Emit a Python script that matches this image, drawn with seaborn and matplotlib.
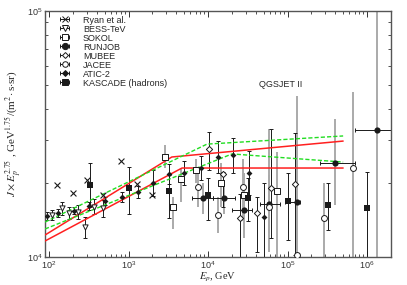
import numpy as np
import pandas as pd
import seaborn as sns
import matplotlib.pyplot as plt
from matplotlib.ticker import LogLocator, NullFormatter

# ---- model curves (QGSJET II) ----
red1_E = [89, 3500, 5e5]
red1_J = [12285, 25500, 29600]
red2_E = [89, 4700, 5e5]
red2_J = [11617, 23000, 23000]
green1_E = [89, 9700, 5e5]
green1_J = [13870, 28770, 31050]
green2_E = [89, 20000, 5e5]
green2_J = [13000, 26240, 24320]

# ---- data ----
ryan_E = [126, 198, 296, 480, 805, 1280, 2000]
ryan_J = [19620, 18240, 20560, 17870, 24600, 19750, 17900]

bess_E = [110, 145, 178, 233, 284, 371, 482]
bess_J = [14820, 15790, 15100, 15260, 13240, 16000, 15790]
bess_lo = [14100, 14800, 14300, 14300, 11970, 14900, 14500]
bess_hi = [15600, 16800, 16000, 16300, 14600, 17200, 17100]

atic_E = [94, 131, 208, 318, 506, 820, 1318, 2033, 3228, 5036, 8165, 13170, 20460, 32830, 50600]
atic_J = [14680, 15140, 15420, 16120, 16890, 17490, 18370, 20050, 21750, 22010, 23000, 25500, 25980, 22010, 14580]
atic_lo = [14200, 14600, 14900, 15500, 16200, 16700, 17400, 17700, 19800, 19600, 20500, 22000, 22000, 17800, 10000]
atic_hi = [15200, 15700, 16000, 16800, 17600, 18300, 19400, 22600, 23800, 24600, 25800, 29500, 30500, 27000, 20000]

sokol_E = [2900, 3600, 4540, 7060, 14450, 28000, 73800]
sokol_J = [25400, 15910, 20750, 22590, 19990, 17870, 18530]
sokol_lo = [22900, 13000, 16800, 20000, 16000, 14000, 10000]
sokol_hi = [28500, 17600, 22900, 25000, 24000, 22000, 26800]

runjob_E = [8570, 15900, 28600, 59000, 131000, 395000, 1320000]
runjob_J = [17420, 17420, 15460, 16500, 16740, 24160, 32800]
runjob_lo = [15000, 15000, 12000, 12500, 10200, 16300, 10000]
runjob_hi = [20000, 20500, 19500, 21500, 24500, 36500, 100000]
runjob_Elo = [6350, 11600, 20000, 45000, 92700, 256500, 706000]
runjob_Ehi = [11600, 21800, 36000, 80000, 143000, 706000, 2000000]

mubee_E = [10400, 15300, 24900, 41300, 62000, 124000]
mubee_J = [27400, 21800, 14360, 15050, 19010, 19750]
mubee_lo = [22580, 16000, 10000, 10500, 12000, 10200]
mubee_hi = [32300, 22200, 18000, 17500, 33000, 31900]

jacee_E = [7550, 13200, 27300, 58500, 131000, 284000, 660000]
jacee_J = [19320, 14810, 19320, 15960, 10190, 14450, 23110]
jacee_lo = [16000, 12500, 14000, 10500, 10000, 10000, 10000]
jacee_hi = [23000, 17500, 25000, 33000, 45000, 19960, 46800]

kascade_E = [328, 1024, 3260, 10100, 32100, 100000, 318000, 1000000]
kascade_J = [19620, 19000, 18530, 17940, 17380, 16900, 16270, 15890]
kascade_lo = [15960, 14910, 14380, 14140, 14000, 11730, 12880, 9900]
kascade_hi = [24100, 23280, 21540, 20900, 21000, 21880, 20000, 22220]

sns.set_theme(style="ticks")
plt.rcParams['font.family'] = ['Liberation Sans', 'DejaVu Sans']
plt.rcParams['mathtext.fontset'] = 'stix'
plt.rcParams['xtick.direction'] = 'in'
plt.rcParams['ytick.direction'] = 'in'

fig, ax = plt.subplots(figsize=(4.07, 2.85), dpi=100)
fig.subplots_adjust(left=0.1106, right=0.9607, bottom=0.0982, top=0.9614)
ax.set(xscale='log', yscale='log')

GRAY = '#aaaaaa'


def errs(J, lo, hi):
    J = np.array(J); return [J - np.array(lo), np.array(hi) - J]


# error bars
thin = dict(fmt='none', ecolor='k', elinewidth=0.7, capsize=1.2, capthick=0.7, zorder=2)
thick = dict(fmt='none', ecolor=GRAY, elinewidth=1.4, capsize=0, zorder=1.5)
ax.errorbar(bess_E, bess_J, yerr=errs(bess_J, bess_lo, bess_hi), **thin)
ax.errorbar(atic_E, atic_J, yerr=errs(atic_J, atic_lo, atic_hi), **thin)
ax.errorbar(kascade_E, kascade_J, yerr=errs(kascade_J, kascade_lo, kascade_hi), **thin)
ax.errorbar(mubee_E, mubee_J, yerr=errs(mubee_J, mubee_lo, mubee_hi), **thin)
ax.errorbar(sokol_E, sokol_J, yerr=errs(sokol_J, sokol_lo, sokol_hi), **thick)
ax.errorbar(jacee_E, jacee_J, yerr=errs(jacee_J, jacee_lo, jacee_hi), **thick)
ax.errorbar(runjob_E, runjob_J, yerr=errs(runjob_J, runjob_lo, runjob_hi), **thick)
ax.errorbar(runjob_E, runjob_J, xerr=errs(runjob_E, runjob_Elo, runjob_Ehi), **thin)

# model lines
sns.lineplot(x=red1_E, y=red1_J, ax=ax, color='#ff2020', lw=1.1, sort=False, zorder=3)
sns.lineplot(x=red2_E, y=red2_J, ax=ax, color='#ff2020', lw=1.1, sort=False, zorder=3)
sns.lineplot(x=green1_E, y=green1_J, ax=ax, color='#22dd22', lw=1.0, sort=False, zorder=3, linestyle=(0, (3, 1.5)))
sns.lineplot(x=green2_E, y=green2_J, ax=ax, color='#22dd22', lw=1.0, sort=False, zorder=3, linestyle=(0, (3, 1.5)))

# markers
mk = dict(ax=ax, zorder=4, legend=False)
sns.scatterplot(x=ryan_E, y=ryan_J, marker='x', color='k', s=18, linewidth=0.8, **mk)
sns.scatterplot(x=bess_E, y=bess_J, marker='v', facecolor='white', edgecolor='k', s=14, linewidth=0.7, **mk)
sns.scatterplot(x=sokol_E, y=sokol_J, marker='s', facecolor='white', edgecolor='k', s=22, linewidth=0.7, **mk)
sns.scatterplot(x=runjob_E, y=runjob_J, marker='o', color='k', s=20, linewidth=0, **mk)
sns.scatterplot(x=mubee_E, y=mubee_J, marker='D', facecolor='white', edgecolor='k', s=10, linewidth=0.7, **mk)
sns.scatterplot(x=jacee_E, y=jacee_J, marker='o', facecolor='white', edgecolor='k', s=18, linewidth=0.7, **mk)
sns.scatterplot(x=atic_E, y=atic_J, marker='D', color='k', s=9, linewidth=0, **mk)
sns.scatterplot(x=kascade_E, y=kascade_J, marker='s', color='k', s=22, linewidth=0, **mk)

# legend handles: horizontal bar with caps + marker
leg_items = [
    ('Ryan et al.', dict(fmt='x', mfc='k', ms=4)),
    ('BESS-TeV', dict(fmt='v', mfc='white', ms=4)),
    ('SOKOL', dict(fmt='s', mfc='white', ms=4.5)),
    ('RUNJOB', dict(fmt='o', mfc='k', ms=4.5)),
    ('MUBEE', dict(fmt='D', mfc='white', ms=3)),
    ('JACEE', dict(fmt='o', mfc='white', ms=4)),
    ('ATIC-2', dict(fmt='D', mfc='k', ms=3)),
    ('KASCADE (hadrons)', dict(fmt='s', mfc='k', ms=4.5)),
]
handles = []
for lab, kw in leg_items:
    h = ax.errorbar([np.nan], [np.nan], xerr=[1], color='k', mec='k', mew=0.7,
                    elinewidth=0.7, capsize=1.5, capthick=0.7, label=lab, **kw)
    handles.append(h)
ax.legend(handles=handles, loc='upper left', frameon=False, fontsize=6.5,
          handlelength=3.4, labelspacing=0.0, handletextpad=0.3,
          borderaxespad=0.1, bbox_to_anchor=(0.0, 1.0))

ax.text(0.682, 0.70, 'QGSJET II', transform=ax.transAxes, fontsize=6.5,
        ha='center', va='center')

ax.set_xlim(89, 2.0e6)
ax.set_ylim(1e4, 1e5)
ax.xaxis.set_major_locator(LogLocator(base=10, numticks=10))
ax.xaxis.set_minor_locator(LogLocator(base=10, subs=np.arange(2, 10), numticks=20))
ax.xaxis.set_minor_formatter(NullFormatter())
ax.yaxis.set_minor_locator(LogLocator(base=10, subs=np.arange(2, 10), numticks=20))
ax.yaxis.set_minor_formatter(NullFormatter())
ax.tick_params(which='both', top=True, right=True, labelsize=6.5, pad=2, colors='#333333')
ax.tick_params(which='major', length=4, width=0.7)
ax.tick_params(which='minor', length=2, width=0.6)
for sp in ax.spines.values():
    sp.set_color('#555555')
    sp.set_linewidth(1.0)

ax.set_xlabel('$E_p$, GeV', family='Liberation Serif', fontsize=7.5, labelpad=-0.5)
ax.set_ylabel(r'$J\times E_p^{2.75}$ , GeV$^{1.75}$/(m$^2\!\cdot$s$\cdot$sr)',
              family='Liberation Serif', fontsize=8, labelpad=2)

plt.savefig('out.png', dpi=100)
